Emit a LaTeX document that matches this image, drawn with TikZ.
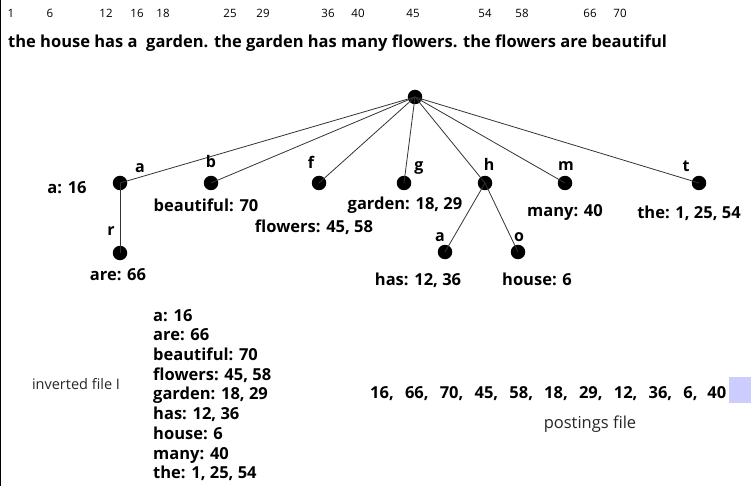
\documentclass[tikz,border=0pt]{standalone}
\usepackage{fontspec}
\setmainfont{Open Sans}
\newcommand{\pf}[2][34.8pt]{\makebox[#1][l]{#2}}
\begin{document}
\begin{tikzpicture}[x=1pt,y=-1pt,
  dot/.style={circle,fill=black,inner sep=0pt,minimum size=14.5pt},
  edge/.style={draw=black!80,line width=0.8pt},
  lbl/.style={font=\bfseries\fontsize{16.5}{19}\selectfont,inner sep=0pt},
  elbl/.style={font=\bfseries\fontsize{16}{18}\selectfont,inner sep=0pt},
  posnum/.style={font=\fontsize{11.5}{13}\selectfont,inner sep=0pt},
  plain/.style={inner sep=0pt,text=black!85}]
\useasboundingbox (0,0) rectangle (751,486);
\draw[line width=1.2pt] (0.6,0) -- (0.6,486);
% position numbers
\foreach \n/\x in {1/11,6/50,12/106,16/137,18/163,25/230,29/263,36/328,40/358,45/413,54/485,58/522,66/590,70/620}
  \node[posnum] (p\n) at (\x,13) {\n};
\node[lbl,anchor=base west] (text) at (8,48) {the house has a\ \ garden. the garden has many flowers. the flowers are beautiful};
% trie
\node[dot] (root) at (415,97) {};
\node[dot] (na) at (120,183) {};
\node[dot] (nb) at (211,183) {};
\node[dot] (nf) at (319,183) {};
\node[dot] (ng) at (404,183) {};
\node[dot] (nh) at (485,183) {};
\node[dot] (nm) at (565,183) {};
\node[dot] (nt) at (699,183) {};
\node[dot] (nar) at (120,253) {};
\node[dot] (nha) at (445,252) {};
\node[dot] (nho) at (518,252) {};
\foreach \c in {na,nb,nf,ng,nh,nm,nt}
  \draw[edge] (root.center) -- (\c.center);
\draw[edge] (na.center) -- (nar.center);
\draw[edge] (nh.center) -- (nha.center);
\draw[edge] (nh.center) -- (nho.center);
% edge labels
\node[elbl] (ea) at (140,168) {a};
\node[elbl] (eb) at (211,162) {b};
\node[elbl] (ef) at (311,162) {f};
\node[elbl] (eg) at (419,168) {g};
\node[elbl] (eh) at (489,164) {h};
\node[elbl] (em) at (566,166) {m};
\node[elbl] (et) at (686,166) {t};
\node[elbl] (er) at (111,231) {r};
\node[elbl] (eha) at (440,237) {a};
\node[elbl] (eho) at (519,237) {o};
% node labels
\node[lbl] (la) at (67,188) {a: 16};
\node[lbl] (lb) at (206,205) {beautiful: 70};
\node[lbl] (lg) at (405,205) {garden: 18, 29};
\node[lbl] (lf) at (314,227) {flowers: 45, 58};
\node[lbl] (lm) at (565,213) {many: 40};
\node[lbl] (lt) at (689,213) {the: 1, 25, 54};
\node[lbl] (lar) at (118,275) {are: 66};
\node[lbl] (lha) at (418,280) {has: 12, 36};
\node[lbl] (lho) at (537,279) {house: 6};
% inverted file
\node[plain,font=\fontsize{14.5}{16}\selectfont] (inv) at (76,384) {inverted file I};
\node[lbl,anchor=north west,align=left,font=\bfseries\fontsize{16.5}{19.7}\selectfont] (list) at (153,309)
 {a: 16\\are: 66\\beautiful: 70\\flowers: 45, 58\\garden: 18, 29\\has: 12, 36\\house: 6\\many: 40\\the: 1, 25, 54};
% postings file
\node[lbl,anchor=base west] (post) at (370,398) {\pf{16,}\pf{66,}\pf{70,}\pf{45,}\pf{58,}\pf{18,}\pf{29,}\pf{12,}\pf{36,}\pf[24pt]{6,}40};
\fill[blue!20] (729,377) rectangle (751,403);
\node[plain,font=\fontsize{16.5}{18}\selectfont] (plbl) at (590,424) {postings file};
\end{tikzpicture}
\end{document}
